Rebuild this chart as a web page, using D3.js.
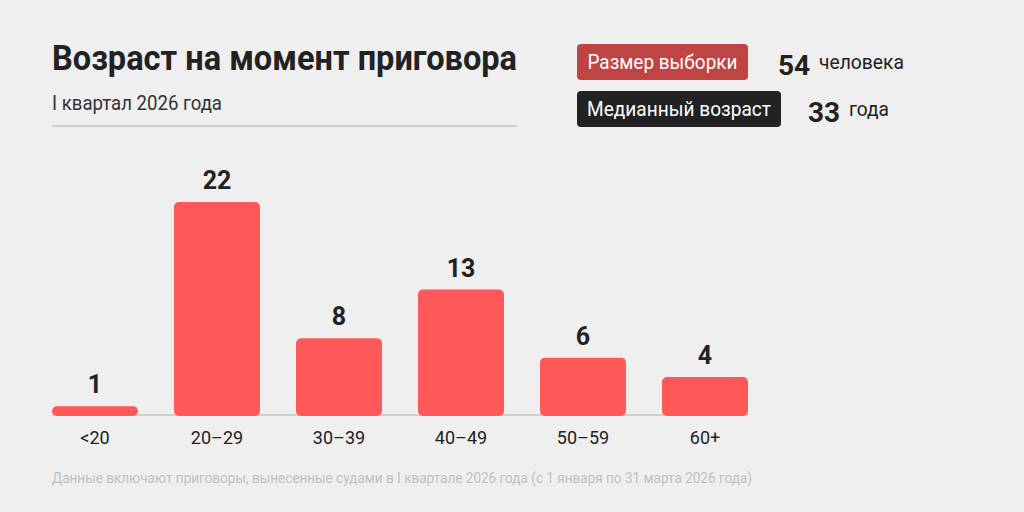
<!DOCTYPE html>
<html>
<head>
<meta charset="utf-8">
<script src="https://cdn.jsdelivr.net/npm/d3@7"></script>
<style>
  html, body { margin: 0; padding: 0; background: #efefef; }
  svg { display: block; font-family: Roboto, "Noto Sans", sans-serif; }
</style>
</head>
<body>
<svg id="chart" width="1024" height="512"></svg>
<script>
// age groups and number of sentences in each
const categories = ["<20", "20-29", "30-39", "40-49", "50-59", "60+"];
const counts = [1, 22, 8, 13, 6, 4];

// summary badges on the right
const badgeLabels = ["Размер выборки", "Медианный возраст"];
const badgeValues = ["54", "33"];
const badgeUnits = ["человека", "года"];

const title = "Возраст на момент приговора";
const subtitle = "I квартал 2026 года";
const footnote = "Данные включают приговоры, вынесенные судами в I квартале 2026 года (с 1 января по 31 марта 2026 года)";

const svg = d3.select("#chart");

// the original font is a bit narrower than Roboto, so squeeze text to the measured width
function squeeze(sel, width) {
  sel.attr("textLength", width).attr("lengthAdjust", "spacingAndGlyphs");
  return sel;
}

// header
squeeze(svg.append("text")
  .attr("x", 52).attr("y", 70)
  .attr("font-size", 35).attr("font-weight", 700)
  .attr("fill", "#222")
  .text(title), 465);

squeeze(svg.append("text")
  .attr("x", 52).attr("y", 110)
  .attr("font-size", 21)
  .attr("fill", "#333")
  .text(subtitle), 170);

svg.append("line")
  .attr("x1", 52).attr("x2", 517)
  .attr("y1", 126).attr("y2", 126)
  .attr("stroke", "#cfcfcf").attr("stroke-width", 2);

// badges
const badgeColors = ["#bf4444", "#222222"];
const badgeWidths = [171, 204];
const labelWidths = [150, 184];
const valueX = [778, 808];
const unitWidths = [85, 40];
badgeLabels.forEach((label, i) => {
  const y = 44 + i * 47;
  svg.append("rect")
    .attr("x", 577).attr("y", y)
    .attr("width", badgeWidths[i]).attr("height", 36)
    .attr("rx", 4)
    .attr("fill", badgeColors[i]);
  squeeze(svg.append("text")
    .attr("x", 577 + (badgeWidths[i] - labelWidths[i]) / 2).attr("y", y + 25)
    .attr("font-size", 21).attr("fill", "#fff")
    .text(label), labelWidths[i]);
  svg.append("text")
    .attr("x", valueX[i]).attr("y", y + 31)
    .attr("font-size", 28).attr("font-weight", 700)
    .attr("fill", "#222")
    .text(badgeValues[i]);
  squeeze(svg.append("text")
    .attr("x", valueX[i] + 41).attr("y", y + 25)
    .attr("font-size", 21)
    .attr("fill", "#222")
    .text(badgeUnits[i]), unitWidths[i]);
});

// bars
const baseline = 416;
const x = d3.scaleBand()
  .domain(categories)
  .range([52, 748])
  .paddingInner(0.295)
  .paddingOuter(0);

const y = d3.scaleLinear()
  .domain([0, 22])
  .range([baseline, 202]);

svg.append("line")
  .attr("x1", 52).attr("x2", 748)
  .attr("y1", baseline - 1).attr("y2", baseline - 1)
  .attr("stroke", "#cfcfcf").attr("stroke-width", 2);

const data = categories.map((c, i) => ({ cat: c, value: counts[i] }));

svg.selectAll("rect.bar")
  .data(data)
  .join("rect")
  .attr("class", "bar")
  .attr("x", d => x(d.cat))
  .attr("width", x.bandwidth())
  .attr("y", d => y(d.value))
  .attr("height", d => baseline - y(d.value))
  .attr("rx", 5)
  .attr("fill", "#ff5858");

svg.selectAll("text.val")
  .data(data)
  .join("text")
  .attr("class", "val")
  .attr("x", d => x(d.cat) + x.bandwidth() / 2)
  .attr("y", d => y(d.value) - 13)
  .attr("text-anchor", "middle")
  .attr("font-size", 25).attr("font-weight", 700)
  .attr("fill", "#222")
  .text(d => d.value);

// category labels
const xAxis = svg.append("g")
  .attr("transform", `translate(0,${baseline})`)
  .call(d3.axisBottom(x).tickSize(0).tickPadding(15).tickFormat(d => d.replace("-", "–")));
xAxis.select(".domain").remove();
xAxis.selectAll("text")
  .attr("font-family", "Roboto, sans-serif")
  .attr("font-size", 18)
  .attr("fill", "#222");

squeeze(svg.append("text")
  .attr("x", 52).attr("y", 483)
  .attr("font-size", 15.5)
  .attr("fill", "#bfbfbf")
  .text(footnote), 700);
</script>
</body>
</html>
